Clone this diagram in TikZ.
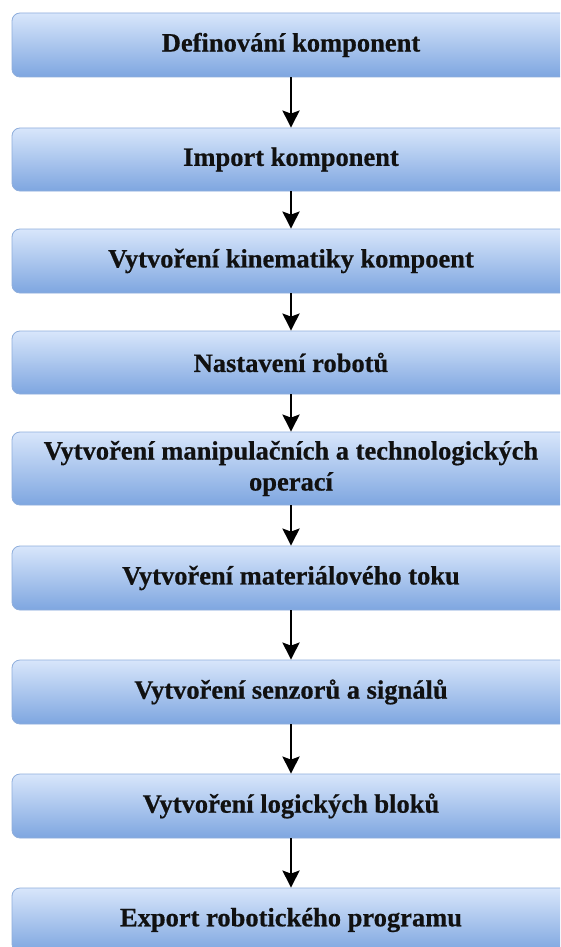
\documentclass[tikz,border=0pt]{standalone}
\usepackage{fontspec}
\setmainfont{Liberation Serif}[BoldFeatures={FakeBold=0.6}]
\usetikzlibrary{arrows.meta}
\definecolor{boxtop}{HTML}{D8E6FB}
\definecolor{boxbot}{HTML}{7EA6E0}
\definecolor{boxline}{HTML}{8FAEDC}
\definecolor{txt}{HTML}{111111}
\tikzset{
  stepbox/.style={rectangle, rounded corners=8pt, draw=boxline, line width=0.8pt,
    top color=boxtop, bottom color=boxbot, minimum width=558pt, inner sep=0pt,
    align=center, font=\bfseries\fontsize{26.5}{31}\selectfont, text=txt},
  flowarrow/.style={line width=2.6pt, -{Stealth[width=17pt,length=17pt,inset=3pt]}}
}
\begin{document}
\begin{tikzpicture}[x=1pt,y=1pt]
\useasboundingbox (0,0) rectangle (560,-947);
\clip (0,0) rectangle (560,-947);
\fill[white] (0,0) rectangle (560,-947);
\node[stepbox, minimum height=64pt] (b1) at (291,-45) {Definování komponent};
\node[stepbox, minimum height=63pt] (b2) at (291,-159.5) {Import komponent};
\node[stepbox, minimum height=64pt] (b3) at (291,-261) {Vytvoření kinematiky kompoent};
\node[stepbox, minimum height=63pt] (b4) at (291,-362.5) {Nastavení robotů};
\node[stepbox, minimum height=73pt] (b5) at (291,-468.5) {Vytvoření manipulačních a technologických\\operací};
\node[stepbox, minimum height=64pt] (b6) at (291,-578) {Vytvoření materiálového toku};
\node[stepbox, minimum height=64pt] (b7) at (291,-692) {Vytvoření senzorů a signálů};
\node[stepbox, minimum height=64pt] (b8) at (291,-806) {Vytvoření logických bloků};
\node[stepbox, minimum height=64pt] (b9) at (291,-920) {Export robotického programu};
\foreach \a/\b in {b1/b2,b2/b3,b3/b4,b4/b5,b5/b6,b6/b7,b7/b8,b8/b9}
  \draw[flowarrow] (\a.south) -- (\b.north);
\end{tikzpicture}
\end{document}
